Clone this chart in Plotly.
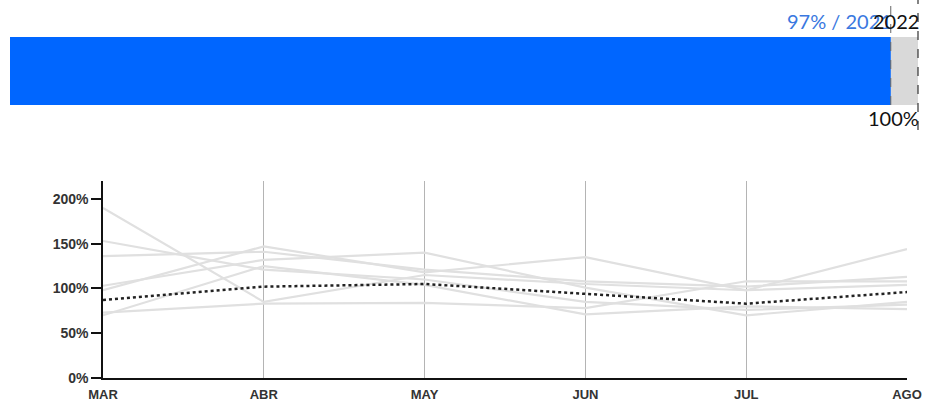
import plotly.graph_objects as go

W, H = 925, 407

# ---- data ----
months = ["MAR", "ABR", "MAY", "JUN", "JUL", "AGO"]
history = [
    [190, 85, 115, 105, 98, 104],
    [153, 121, 110, 85, 76, 82],
    [136, 141, 121, 108, 102, 113],
    [103, 132, 140, 101, 70, 85],
    [98, 147, 118, 135, 98, 144],
    [73, 83, 84, 78, 108, 108],
    [70, 125, 104, 71, 80, 77],
]
current = [87, 102, 105, 94, 83, 96]
yticks = [0, 50, 100, 150, 200]

progress_value = 97
progress_total = 100
progress_label = "97% / 2021"
year_label = "2022"
total_label = "100%"

def px_x(p):
    return p / W

def px_y(p):
    return (H - p) / H

BAR_DOM = [px_x(10), px_x(918)]

def bar_paper_x(v):
    return BAR_DOM[0] + (BAR_DOM[1] - BAR_DOM[0]) * v / progress_total

fig = go.Figure()

# ---- progress bar (top) ----
fig.add_trace(go.Bar(x=[progress_total], y=[0], orientation="h", width=1,
                     marker=dict(color="#d9d9d9", line=dict(width=0)),
                     xaxis="x2", yaxis="y2", hoverinfo="skip", showlegend=False))
fig.add_trace(go.Bar(x=[progress_value], y=[0], orientation="h", width=1,
                     marker=dict(color="#0066ff", line=dict(width=0)),
                     xaxis="x2", yaxis="y2", hoverinfo="skip", showlegend=False))

# ---- line chart (bottom) ----
for s in history:
    fig.add_trace(go.Scatter(x=months, y=s, mode="lines",
                             line=dict(color="#e0e0e0", width=2.2),
                             hoverinfo="skip", showlegend=False))
fig.add_trace(go.Scatter(x=months, y=current, mode="lines",
                         line=dict(color="#222222", width=2.5, dash="dot"),
                         showlegend=False))

xtickfont = dict(family="Liberation Sans, Arial", size=13, color="#333333", weight="bold")
ytickfont = dict(family="Liberation Sans, Arial", size=14, color="#333333", weight="bold")

fig.update_layout(
    width=W, height=H,
    margin=dict(l=0, r=0, t=0, b=0),
    paper_bgcolor="white", plot_bgcolor="rgba(0,0,0,0)",
    barmode="overlay",
    xaxis=dict(domain=[px_x(103), px_x(907)], type="category", range=[0, 5],
               showgrid=True, gridcolor="#b4b4b4", gridwidth=1,
               showline=True, linecolor="#111", linewidth=1.5,
               ticks="", tickfont=xtickfont, automargin=False, zeroline=False,
               ticklabelstandoff=4, anchor="y"),
    yaxis=dict(domain=[px_y(378), px_y(181)], range=[0, 220],
               tickvals=yticks, ticktext=[f"{v}%" for v in yticks],
               showgrid=False, showline=True, linecolor="#111", linewidth=1.5,
               ticks="outside", ticklen=10, tickcolor="#111", tickwidth=1.5,
               tickfont=ytickfont, automargin=False, zeroline=False, anchor="x"),
    xaxis2=dict(domain=BAR_DOM, range=[0, progress_total],
                visible=False, anchor="y2"),
    yaxis2=dict(domain=[px_y(105), px_y(37)], range=[-0.5, 0.5],
                visible=False, anchor="x2"),
)

# dashed markers on the progress bar
fig.add_shape(type="line", xref="paper", yref="paper",
              x0=bar_paper_x(progress_value), x1=bar_paper_x(progress_value),
              y0=px_y(105), y1=1,
              line=dict(color="#666", width=1, dash="dash"))
fig.add_shape(type="line", xref="paper", yref="paper",
              x0=bar_paper_x(progress_total), x1=bar_paper_x(progress_total),
              y0=px_y(130), y1=1,
              line=dict(color="#333", width=1.2, dash="dash"))

txtfont = "Lato, Open Sans, sans-serif"
fig.add_annotation(xref="paper", yref="paper", x=bar_paper_x(progress_value), y=px_y(21),
                   text=progress_label, showarrow=False, xanchor="right", yanchor="middle",
                   xshift=3, font=dict(family=txtfont, size=20, color="#3a78e0"))
fig.add_annotation(xref="paper", yref="paper", x=bar_paper_x(progress_total), y=px_y(21),
                   text=year_label, showarrow=False, xanchor="right", yanchor="middle",
                   xshift=3, font=dict(family=txtfont, size=20, color="#111"))
fig.add_annotation(xref="paper", yref="paper", x=bar_paper_x(progress_total), y=px_y(118),
                   text=total_label, showarrow=False, xanchor="right", yanchor="middle",
                   xshift=3, font=dict(family=txtfont, size=20, color="#111"))

fig.write_html("out.html",
               config={"displayModeBar": False},
               post_script="document.body.style.margin='0';document.body.style.overflow='hidden';")
